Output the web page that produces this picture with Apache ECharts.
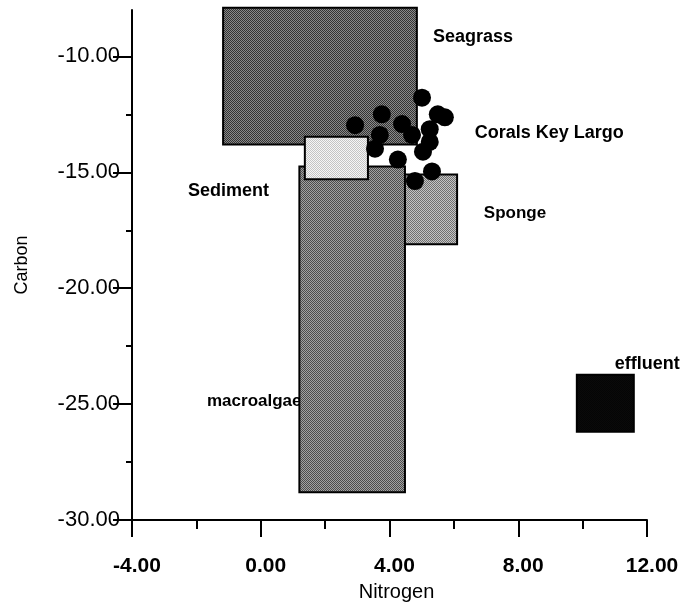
<!DOCTYPE html>
<html>
<head>
<meta charset="utf-8">
<script src="https://cdn.jsdelivr.net/npm/echarts@6/dist/echarts.min.js"></script>
<style>
  html, body { margin: 0; padding: 0; background: #fff; }
  #chart { width: 691px; height: 607px; }
</style>
</head>
<body>
<div id="chart"></div>
<script>
// groups drawn as boxes: [nitrogen min, nitrogen max, carbon top, carbon bottom]
const boxNames = ['Seagrass', 'Sponge', 'macroalgae', 'Sediment', 'effluent'];
const boxRanges = [
    [-1.17, 4.85, -7.9, -13.8],
    [4.4, 6.1, -15.1, -18.1],
    [1.2, 4.48, -14.75, -28.8],
    [1.37, 3.33, -13.47, -15.3],
    [9.82, 11.59, -23.73, -26.19]
];
// halftone look: two greys per box, alternated in a checker
const boxDark = ['#333333', '#707070', '#4c4c4c', '#c4c4c4', '#050505'];
const boxLight = ['#8a8a8a', '#c4c4c4', '#a2a2a2', '#f6f6f6', '#0a0a0a'];

// individual coral samples, Key Largo
const coralN = [5.01, 5.50, 5.72, 3.76, 2.93, 4.39, 5.25, 3.70, 4.70, 5.25, 3.55, 5.04, 4.26, 5.32, 4.79];
const coralC = [-11.78, -12.50, -12.63, -12.50, -12.97, -12.92, -13.14, -13.39, -13.39, -13.69, -13.98, -14.11, -14.45, -14.96, -15.38];

// text labels placed in data space
const labelText = ['Seagrass', 'Corals Key Largo', 'Sponge', 'Sediment', 'macroalgae', 'effluent'];
const labelN = [5.35, 6.65, 6.93, -2.26, -1.67, 11.0];
const labelC = [-9.15, -13.3, -16.78, -15.8, -24.87, -23.26];
const labelSize = [18, 18, 17, 18, 17, 18];

const yMajor = [-30, -25, -20, -15, -10];
const yMinor = [-27.5, -22.5, -17.5, -12.5];

const FONT = "'Liberation Sans', Arial, sans-serif";

function checker(dark, light) {
    const c = document.createElement('canvas');
    c.width = 2; c.height = 2;
    const ctx = c.getContext('2d');
    ctx.fillStyle = light; ctx.fillRect(0, 0, 2, 2);
    ctx.fillStyle = dark; ctx.fillRect(0, 0, 1, 1); ctx.fillRect(1, 1, 1, 1);
    return { image: c, repeat: 'repeat' };
}

const chart = echarts.init(document.getElementById('chart'));

const boxFills = boxNames.map((n, i) => checker(boxDark[i], boxLight[i]));
const boxData = boxRanges.map((r, i) => ({ value: r, name: boxNames[i] }));
const coralData = coralN.map((n, i) => [n, coralC[i]]);
const labelData = labelText.map((t, i) => ({ value: [labelN[i], labelC[i]], name: t, size: labelSize[i] }));

const option = {
    animation: false,
    backgroundColor: '#fff',
    grid: { left: 132, right: 44, top: 10, bottom: 78 },
    xAxis: {
        type: 'value', min: -4, max: 12, interval: 4,
        name: 'Nitrogen', nameLocation: 'middle', nameGap: 52,
        nameTextStyle: { fontFamily: FONT, fontSize: 20, color: '#000', padding: [0, 0, 0, 14] },
        axisLine: { show: true, onZero: false, lineStyle: { color: '#000', width: 2 } },
        axisTick: { show: true, length: 17, lineStyle: { color: '#000', width: 2 } },
        minorTick: { show: true, splitNumber: 2, length: 9, lineStyle: { color: '#000', width: 2 } },
        splitLine: { show: false },
        axisLabel: {
            margin: 36, fontFamily: FONT, fontSize: 21, fontWeight: 'bold', color: '#000',
            padding: [0, 0, 0, 10],
            formatter: v => v.toFixed(2)
        }
    },
    yAxis: [{
        type: 'value', min: -30, max: -8,
        name: 'Carbon', nameLocation: 'middle', nameGap: 101, nameRotate: 90,
        nameTextStyle: { fontFamily: FONT, fontSize: 18, color: '#000' },
        axisLine: { show: true, onZero: false, lineStyle: { color: '#000', width: 2 } },
        axisTick: { show: true, length: 19, customValues: yMajor, lineStyle: { color: '#000', width: 2 } },
        splitLine: { show: false },
        axisLabel: {
            margin: 12, fontFamily: FONT, fontSize: 22, color: '#000', customValues: yMajor,
            formatter: v => v.toFixed(2)
        }
    }, {
        type: 'value', min: -30, max: -8, position: 'left',
        axisLine: { show: false, onZero: false },
        axisTick: { show: true, length: 6, customValues: yMinor, lineStyle: { color: '#000', width: 2 } },
        axisLabel: { show: false },
        splitLine: { show: false }
    }],
    series: [{
        type: 'custom',
        z: 1,
        data: labelData,
        renderItem: (params, api) => {
            const d = labelData[params.dataIndex];
            const p = api.coord([api.value(0), api.value(1)]);
            return {
                type: 'text', x: p[0], y: p[1],
                style: {
                    text: d.name, fill: '#000',
                    font: 'bold ' + d.size + 'px ' + FONT,
                    verticalAlign: 'middle', align: 'left'
                }
            };
        }
    }, {
        type: 'custom',
        z: 2,
        clip: false,
        data: boxData,
        renderItem: (params, api) => {
            const p0 = api.coord([api.value(0), api.value(2)]);
            const p1 = api.coord([api.value(1), api.value(3)]);
            return {
                type: 'rect',
                shape: { x: p0[0], y: p0[1], width: p1[0] - p0[0], height: p1[1] - p0[1] },
                style: { fill: boxFills[params.dataIndex], stroke: '#000', lineWidth: 2 }
            };
        }
    }, {
        type: 'scatter',
        z: 3,
        symbol: 'circle',
        symbolSize: 18,
        itemStyle: { color: '#000', opacity: 1 },
        data: coralData
    }]
};

chart.setOption(option);
</script>
</body>
</html>
